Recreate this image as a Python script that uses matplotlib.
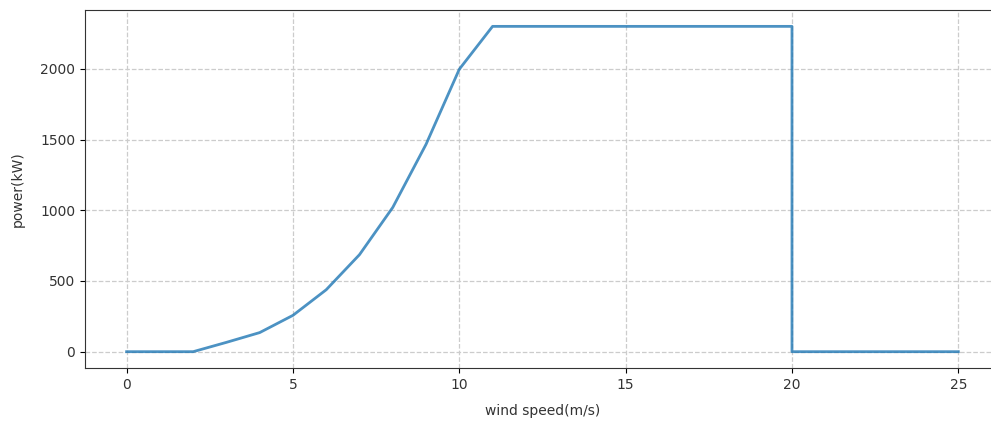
import numpy as np
import matplotlib.pyplot as plt

# power curve (wind speed m/s -> power kW)
wind_speed = [0, 1, 2, 3, 4, 5, 6, 7, 8, 9, 10, 11, 12, 13, 14, 15, 16, 17, 18, 19, 20, 20, 21, 22, 23, 24, 25]
power = [0, 0, 0, 66, 135, 257, 438, 686, 1020, 1466, 1997, 2300, 2300, 2300, 2300, 2300, 2300, 2300, 2300, 2300, 2300,
         0, 0, 0, 0, 0, 0]

fig = plt.figure(figsize=(9.91, 4.21), dpi=100)
ax = fig.add_axes([0.0858, 0.126, 0.9232, 0.850])

ax.plot(wind_speed, power, color='#1f77b4', alpha=0.8, lw=2)

ax.grid(True, linestyle='--', color='#cccccc', lw=0.9)
ax.set_xticks([0, 5, 10, 15, 20, 25])
ax.set_yticks([0, 500, 1000, 1500, 2000])
ax.tick_params(labelsize=10, labelcolor='#333333')
ax.set_xlabel('wind speed(m/s)', fontsize=10, color='#333333', labelpad=9)
ax.set_ylabel('power(kW)', fontsize=10, color='#333333', labelpad=11)
for s in ax.spines.values():
    s.set_color('#333333')

fig.savefig('out.png', dpi=100)
